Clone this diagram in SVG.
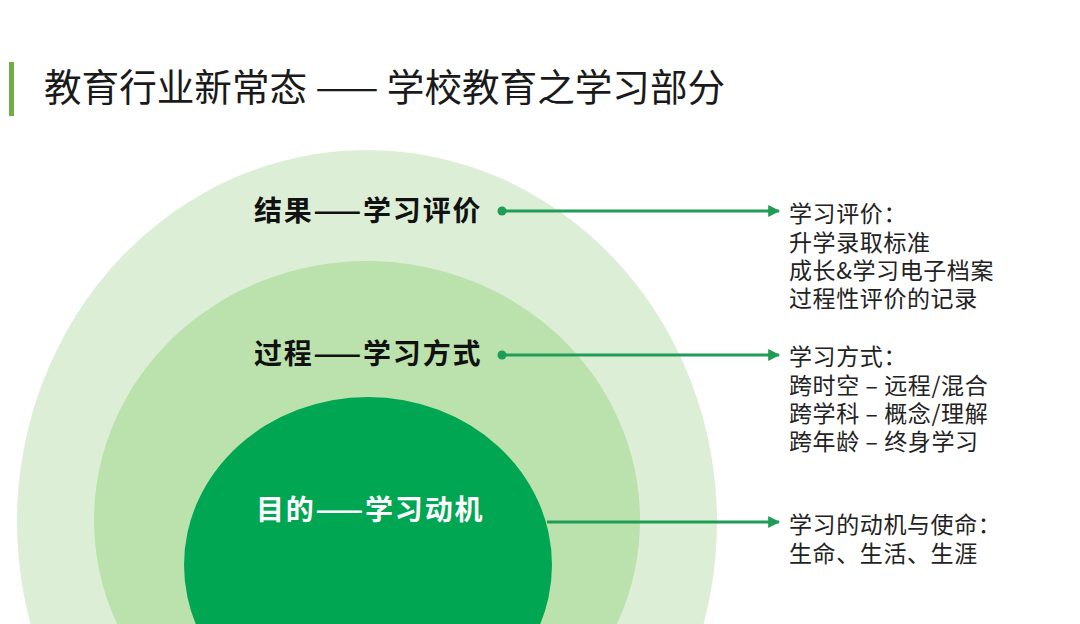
<svg xmlns="http://www.w3.org/2000/svg" width="1080" height="624" viewBox="0 0 1080 624">
<defs>
<style>
.title{font-family:"Noto Sans CJK SC","Noto Sans",sans-serif;font-size:37.6px;fill:#1a1a1a}
.lbl{font-family:"Noto Sans CJK SC","Noto Sans",sans-serif;font-size:28px;font-weight:bold;letter-spacing:1.8px;fill:#111}
.lblw{fill:#ffffff}
.desc{font-family:"Noto Sans CJK SC","Noto Sans",sans-serif;font-size:23px;letter-spacing:0.6px;fill:#222}
.conn{stroke:#1f9c55;stroke-width:3;fill:none}
</style>
<marker id="arr" viewBox="0 0 10 10" refX="9" refY="5" markerWidth="4" markerHeight="4" orient="auto" markerUnits="strokeWidth">
<path d="M0,0 L10,5 L0,10 z" fill="#1f9c55"/>
</marker>
</defs>
<rect width="1080" height="624" fill="#ffffff"/>
<g id="title">
<rect x="9" y="62" width="5" height="54" fill="#70ad47"/>
<text class="title" x="44" y="101">教育行业新常态 —— 学校教育之学习部分</text>
</g>
<g id="outer">
<ellipse cx="367" cy="522" rx="350" ry="372" fill="#dcefd6"/>
<text class="lbl" x="254" y="221">结果——学习评价</text>
</g>
<g id="middle">
<ellipse cx="367" cy="520" rx="273" ry="259" fill="#bbe2ac"/>
<text class="lbl" x="254" y="364">过程——学习方式</text>
</g>
<g id="inner">
<ellipse cx="368" cy="565" rx="184" ry="168" fill="#00a652"/>
<text class="lbl lblw" x="256" y="520">目的——学习动机</text>
</g>
<g id="connectors">
<circle cx="502" cy="211" r="4.5" fill="#1f9c55"/>
<line class="conn" x1="502" y1="211" x2="779" y2="211" marker-end="url(#arr)"/>
<circle cx="502" cy="355" r="4.5" fill="#1f9c55"/>
<line class="conn" x1="502" y1="355" x2="779" y2="355" marker-end="url(#arr)"/>
<line class="conn" x1="547" y1="522" x2="779" y2="522" marker-end="url(#arr)"/>
</g>
<g id="desc1">
<text class="desc" x="789" y="222">学习评价：</text>
<text class="desc" x="789" y="251">升学录取标准</text>
<text class="desc" x="789" y="279">成长&amp;学习电子档案</text>
<text class="desc" x="789" y="307">过程性评价的记录</text>
</g>
<g id="desc2">
<text class="desc" x="789" y="365">学习方式：</text>
<text class="desc" x="789" y="394">跨时空 – 远程/混合</text>
<text class="desc" x="789" y="422">跨学科 – 概念/理解</text>
<text class="desc" x="789" y="450">跨年龄 – 终身学习</text>
</g>
<g id="desc3">
<text class="desc" x="789" y="533">学习的动机与使命：</text>
<text class="desc" x="789" y="562">生命、生活、生涯</text>
</g>
</svg>
